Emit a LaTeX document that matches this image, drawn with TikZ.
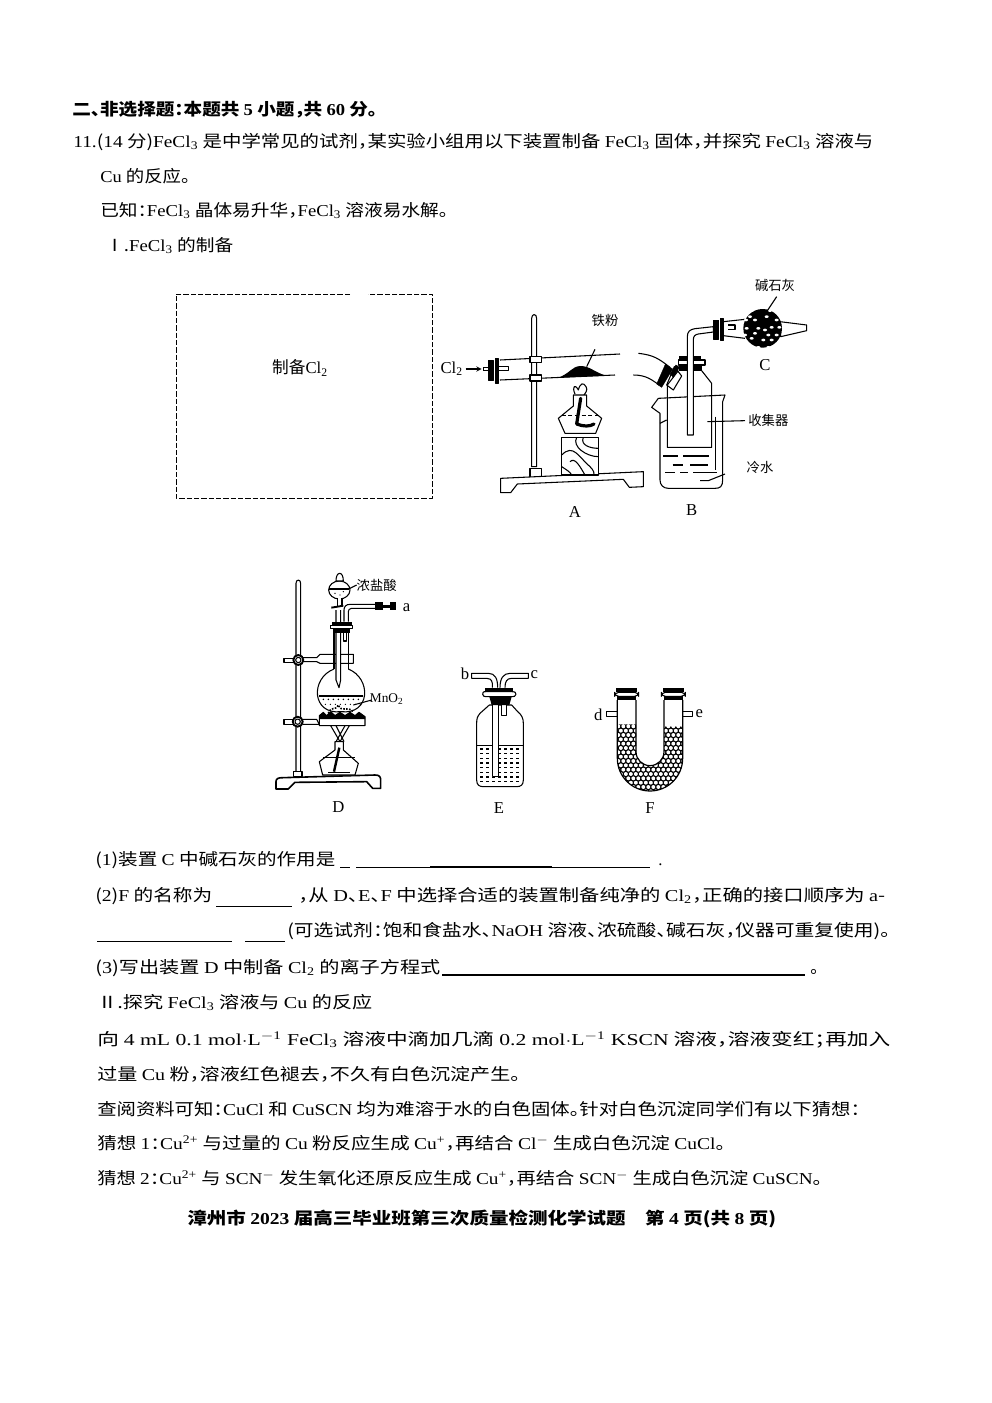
\documentclass[tikz,border=0pt]{standalone}
\usepackage{fontspec}
\setmainfont[RawFeature=+halt]{Noto Sans CJK SC}
\newfontfamily\latinf{Liberation Serif}
\newcommand{\en}[1]{{\latinf #1}}
\newcommand{\fitted}[2]{\resizebox{#1\px}{\height}{#2}}
\newlength{\px}
\setlength{\px}{.75pt}
\tikzset{
  textline/.style={anchor=base west,inner sep=0pt,font=\fontsize{12.5}{15}\selectfont},
  tag/.style={inner sep=0pt,font=\fontsize{10}{12}\selectfont},
  captag/.style={inner sep=0pt,font=\fontsize{12.5}{15}\selectfont},
  rubber/.style={draw=black,fill=black},
  glass/.style={draw=black,line width=.8pt},
  blank/.style={line width=.8pt},
  rule/.style={line width=.6pt},
}
\begin{document}
\begin{tikzpicture}[x=.75pt,y=-.75pt,>=stealth,line join=round]
  \useasboundingbox (0,0) rectangle (992,1403);
  % text above the figures
  \node[textline] (head) at (72,115) {\bfseries\fitted{305}{二、非选择题：本题共 \en{5} 小题，共 \en{60} 分。}};
  \node[textline] (qa) at (73,147) {\fitted{800}{\en{11.}(\en{14} 分)\en{FeCl\textsubscript{3}} 是中学常见的试剂，某实验小组用以下装置制备 \en{FeCl\textsubscript{3}} 固体，并探究 \en{FeCl\textsubscript{3}} 溶液与}};
  \node[textline] (qb) at (100,182) {\fitted{90}{\en{Cu} 的反应。}};
  \node[textline] (known) at (100,216) {\fitted{348}{已知：\en{FeCl\textsubscript{3}} 晶体易升华，\en{FeCl\textsubscript{3}} 溶液易水解。}};
  \node[textline] (partone) at (105,251) {\fitted{128}{Ⅰ.\en{FeCl\textsubscript{3}} 的制备}};

  % dashed box
  \draw[dash pattern=on 4pt off 1.5pt,line width=.6pt] (350,294) -- (176,294) -- (176,498) -- (432,498) -- (432,294) -- (368,294);
  \node[captag] (boxtag) at (300,368) {制备\en{Cl\textsubscript{2}}};

  % apparatus A, B, C
  \begin{scope}[shift={(430,270)},scale=1/3]
    \node[captag] (clgas) at (65,297) {\en{Cl\textsubscript{2}}};
    \coordinate (gasin) at (155,297);
    \draw[->,thick] (clgas.east) ++(8,0) -- (gasin);
    % stand
    \draw[glass,fill=white] (305,590) -- (305,145) .. controls (305,130) and (320,130) .. (320,145) -- (320,590) -- cycle;
    \draw[glass,fill=white] (300,595) rectangle (335,625);
    \draw[blank,fill=white] (212,625) -- (640,605) -- (640,650) -- (598,652) -- (580,628) -- (262,642) -- (242,668) -- (212,668) -- cycle;
    % tube
    \draw[glass] (210,270) -- (570,252);
    \draw[glass] (210,330) -- (555,315);
    \draw[rubber] (175,270) rectangle (190,330);
    \draw[rubber] (195,265) rectangle (205,340);
    \draw[glass] (160,292) -- (175,292) (160,302) -- (175,302) (160,292) -- (160,302);
    \draw[glass] (205,290) -- (235,290) -- (235,302) -- (205,302);
    \draw[glass,fill=white] (300,260) rectangle (335,277);
    \draw[glass,fill=white] (300,315) rectangle (335,333);
    % iron powder
    \fill (385,323) .. controls (420,310) and (425,290) .. (450,288) .. controls (480,288) and (490,305) .. (528,317) -- cycle;
    \draw[blank] (495,238) -- (470,290);
    \node[tag] (irontag) at (525,152) {铁粉};
    % spirit lamp
    \draw[blank] (435,372) .. controls (425,350) and (435,340) .. (445,360) .. controls (450,340) and (460,335) .. (468,350) .. controls (475,360) and (465,370) .. (462,375);
    \draw[glass,fill=white] (430,375) -- (470,375) -- (470,408) -- (515,445) -- (497,490) -- (405,490) -- (385,445) -- (430,408) -- cycle;
    \draw[blank,densely dashed] (395,437) -- (505,437);
    \draw[line width=2.4pt,line cap=round] (452,385) -- (440,462) .. controls (460,470) and (480,470) .. (492,462);
    % wood block
    \draw[glass,fill=white] (395,502) rectangle (505,615);
    \draw[blank] (440,502) .. controls (425,530) and (470,560) .. (505,560);
    \draw[blank] (460,502) .. controls (450,525) and (480,535) .. (505,535);
    \draw[blank] (395,555) .. controls (430,520) and (445,560) .. (480,590) .. controls (490,600) and (495,610) .. (490,615);
    \draw[blank] (420,575) .. controls (435,560) and (450,590) .. (465,615);
    \draw[blank] (395,590) .. controls (410,600) and (420,605) .. (425,615);
    % tube continued
    \draw[glass] (625,250) .. controls (670,255) and (685,265) .. (720,292);
    \draw[glass] (610,315) .. controls (650,315) and (665,330) .. (688,345);
    \draw[rubber,line width=.3pt] (706,283) -- (728,297) -- (695,352) -- (680,342) -- cycle;
    \draw[glass,fill=white] (733,290) -- (755,318) -- (730,360) -- (710,345) -- cycle;
    \draw[rubber] (721,312) -- (738,285) -- (748,292) -- (730,322) -- cycle;
    % bottle
    \draw[glass] (745,302) -- (712,345) -- (712,532) -- (845,532) -- (845,340) -- (815,302);
    \draw[glass,fill=white] (745,270) rectangle (825,285);
    \fill (748,258) rectangle (812,272);
    \fill (748,284) rectangle (815,302);
    % beaker
    \draw[glass] (690,430) -- (665,412) -- (685,385) -- (885,375) -- (878,395) -- (878,630) .. controls (878,650) and (870,655) .. (855,655) -- (715,655) .. controls (700,655) and (690,645) .. (690,630) -- cycle;
    \draw[blank] (700,558) -- (745,558) (760,558) -- (838,558) (728,585) -- (760,585) (780,585) -- (835,585) (705,608) -- (735,608) (750,608) -- (775,608) (790,608) -- (860,608);
    \draw[blank] (857,440) -- (857,600);
    \draw[blank] (710,450) -- (690,460);
    \draw[blank] (810,632) -- (835,632) -- (885,612);
    \coordinate (collect) at (945,452);
    \draw[blank] (832,455) -- (collect);
    \node[tag] (collecttag) at (1015,450) {收集器};
    \node[tag] (watertag) at (990,592) {冷水};
    % bent tube
    \draw[glass,fill=white] (772,495) -- (772,200) .. controls (772,185) and (780,178) .. (795,176) -- (850,170) -- (850,186) -- (805,192) .. controls (795,194) and (790,198) .. (790,210) -- (790,495) -- cycle;
    % bulb C
    \draw[glass] (880,155) -- (945,148);
    \draw[glass] (880,197) -- (945,205);
    \draw[rubber] (850,150) rectangle (866,208);
    \draw[rubber] (872,145) rectangle (880,212);
    \draw[glass] (895,165) -- (915,165) -- (915,178) -- (895,178);
    \draw[glass,fill=white] (1050,155) -- (1130,165) -- (1130,182) -- (1052,200) -- cycle;
    \fill (998,175) circle (58);
    \foreach \sx/\sy in {965/122,995/112,1020/122,975/150,1010/140,1040/150,950/175,985/175,1025/172,1005/180,965/205,1000/210,1025/210,1040/195,985/232,960/140,1015/232,948/150,1048/172,975/190,1015/195,945/195}{
      \fill[white] (\sx,\sy) ellipse (6 and 4);
    }
    \draw[blank] (1040,80) -- (1012,122);
    \node[tag] (limetag) at (1035,45) {碱石灰};
    % captions
    \node[captag] (capA) at (435,725) {\en{A}};
    \node[captag] (capB) at (785,720) {\en{B}};
    \node[captag] (capC) at (1005,285) {\en{C}};
  \end{scope}

  % apparatus D
  \begin{scope}[shift={(260,565)},scale=1/3]
    \draw[glass,fill=white] (108,622) -- (108,55) .. controls (108,42) and (122,42) .. (122,55) -- (122,622) -- cycle;
    \draw[glass,fill=white] (100,620) rectangle (126,634);
    \draw[line width=1.2pt,fill=white] (48,650) .. controls (48,640) and (55,638) .. (70,638) -- (345,630) .. controls (358,630) and (362,635) .. (362,645) -- (362,670) -- (338,670) -- (320,650) -- (105,652) -- (85,672) -- (48,672) -- cycle;
    % upper clamp
    \draw[glass,fill=white] (72,280) rectangle (100,292);
    \draw[glass,fill=white] (128,278) -- (170,278) -- (180,268) -- (280,268) -- (280,295) -- (180,295) -- (170,290) -- (128,290) -- cycle;
    % lower clamp and gauze
    \draw[glass,fill=white] (72,463) rectangle (100,478);
    \draw[glass,fill=white] (128,463) -- (170,463) -- (178,478) -- (128,478) -- cycle;
    \draw[glass,fill=white] (178,452) -- (190,442) -- (200,452) -- (212,440) -- (225,452) -- (240,442) -- (255,452) -- (270,442) -- (285,452) -- (297,442) -- (315,455) -- (315,482) -- (178,482) -- cycle;
    \fill (178,452) -- (190,442) -- (200,452) -- (212,440) -- (225,452) -- (240,442) -- (255,452) -- (270,442) -- (285,452) -- (297,442) -- (315,455) -- (315,462) -- (178,462) -- cycle;
    \foreach \bx/\by in {115/285,113/470}{
      \draw[line width=1.4pt,fill=white] (\bx,\by) circle (15);
      \draw[glass,fill=white] (\bx,\by) circle (8);
    }
    % flask
    \draw[glass,fill=white] (222,312) -- (222,195) (265,195) -- (265,312);
    \draw[glass,fill=white] (222,312) .. controls (150,340) and (155,450) .. (243,440) .. controls (332,450) and (335,340) .. (265,312);
    \draw[blank] (178,393) -- (310,393);
    \foreach \lx in {190,205,...,295}{
      \fill (\lx,403) circle (2.5);
      \fill (\lx+6,418) circle (2);
    }
    \draw[line width=1.2pt,densely dotted] (205,445) .. controls (215,420) and (225,440) .. (235,420) .. controls (245,445) and (260,420) .. (280,440);
    \draw[blank] (280,420) -- (335,405);
    \node[tag] (mntag) at (380,402) {\en{MnO\textsubscript{2}}};
    % long stem and stopper
    \draw[glass,fill=white] (228,135) -- (228,345) -- (237,368) -- (242,345) -- (242,135);
    \draw[glass] (250,205) -- (250,228) -- (260,228) -- (260,205);
    \fill (215,172) rectangle (275,182);
    \draw[glass,fill=white] (212,182) rectangle (278,190);
    \fill (218,190) rectangle (270,205);
    % funnel
    \draw[glass,fill=white] (238,75) ellipse (32 and 27);
    \draw[blank] (208,72) -- (268,72);
    \fill (225,85) circle (2) (240,90) circle (2) (250,80) circle (2);
    \draw[glass,fill=white] (232,100) -- (232,125) -- (246,125) -- (246,100);
    \draw[glass,fill=white] (228,48) .. controls (228,35) and (232,25) .. (239,25) .. controls (246,25) and (250,35) .. (250,48) -- cycle;
    \draw[line width=1.4pt] (214,128) -- (250,122);
    % side arm
    \draw[glass] (252,170) -- (252,135) .. controls (252,125) and (258,118) .. (270,118) -- (345,118);
    \draw[glass] (265,170) -- (265,140) .. controls (265,135) and (268,130) .. (275,130) -- (345,130);
    \coordinate (armend) at (345,124);
    \fill (345,112) rectangle (368,136);
    \fill (368,120) rectangle (390,128);
    \fill (390,112) rectangle (408,136);
    % spirit lamp
    \draw[blank] (212,482) -- (240,530) -- (268,482);
    \draw[blank] (228,482) -- (252,530) (255,482) -- (228,530);
    \draw[glass,fill=white] (225,530) -- (250,530) -- (250,555) -- (295,595) -- (285,630) -- (188,630) -- (178,590) -- (225,555) -- cycle;
    \draw[blank] (190,578) -- (285,578);
    \draw[line width=1.8pt] (238,548) -- (222,620);
    \draw[line width=1.2pt] (205,622) -- (270,622);
    \draw[blank] (270,70) -- (290,60);
    \node[tag] (acidtag) at (350,62) {浓盐酸};
    \node[captag] (portA) at (440,128) {\en{a}};
    \node[captag] (capD) at (235,725) {\en{D}};
  \end{scope}

  % apparatus E and F
  \begin{scope}[shift={(450,655)},scale=1/3]
    \draw[glass,fill=white] (118,150) -- (90,175) .. controls (82,185) and (80,190) .. (80,205) -- (80,375) .. controls (80,390) and (88,395) .. (100,395) -- (200,395) .. controls (212,395) and (220,390) .. (220,375) -- (220,205) .. controls (220,190) and (215,180) .. (205,172) -- (185,150) -- cycle;
    \draw[blank] (80,272) -- (220,272);
    \foreach \dy in {282,296,...,380}{
      \foreach \dx in {90,108,...,208}{
        \draw[line width=.9pt] (\dx,\dy) -- (\dx+9,\dy);
      }
    }
    \draw[glass,fill=white] (155,150) -- (155,182) -- (170,182) -- (170,150);
    \draw[glass,fill=white] (127,150) -- (127,365) -- (145,365) -- (145,150);
    \fill (105,98) rectangle (190,110);
    \draw[glass,fill=white] (98,118) .. controls (98,108) and (105,110) .. (110,110) -- (185,110) .. controls (195,110) and (198,112) .. (198,118) .. controls (198,125) and (190,125) .. (185,125) -- (110,125) .. controls (105,125) and (98,125) .. (98,118) -- cycle;
    \fill (118,125) -- (185,125) -- (178,150) -- (125,150) -- cycle;
    \draw[glass,fill=white] (127,98) -- (127,85) .. controls (125,72) and (118,70) .. (110,70) -- (65,70) -- (65,55) -- (115,55) .. controls (135,55) and (143,70) .. (143,98);
    \draw[glass,fill=white] (150,98) .. controls (150,70) and (160,55) .. (180,55) -- (235,55) -- (235,70) -- (185,70) .. controls (170,70) and (165,80) .. (165,98);
    \node[captag] (portB) at (45,55) {\en{b}};
    \node[captag] (portC) at (253,58) {\en{c}};
    \node[captag] (capE) at (147,460) {\en{E}};

    % U tube
    \begin{scope}
      \clip (502,208) -- (502,310) arc (180:0:98) -- (698,215) -- (642,215) -- (642,290) arc (0:180:42) -- (558,208) -- cycle;
      \foreach \row in {0,...,15}{
        \foreach \col in {0,...,14}{
          \pgfmathsetmacro{\bx}{505+15*\col+7.5*mod(\row,2)}
          \pgfmathsetmacro{\by}{214+13*\row}
          \draw[line width=.6pt] (\bx,\by) circle (7.8);
        }
      }
    \end{scope}
    \draw[glass,line width=.9pt] (502,135) -- (502,310) arc (180:0:98) -- (698,135);
    \draw[glass,line width=.9pt] (558,135) -- (558,290) arc (180:0:42) -- (642,135);
    \foreach \ux in {530,670}{
      \fill (\ux-31,98) rectangle (\ux+31,112);
      \draw[glass,fill=white,rounded corners=3pt] (\ux-36,112) rectangle (\ux+36,124);
      \fill (\ux-28,124) rectangle (\ux+28,136);
    }
    \draw[glass] (502,170) -- (470,170) -- (470,185) -- (502,185);
    \draw[glass] (698,170) -- (728,170) -- (728,185) -- (698,185);
    \node[captag] (portD) at (445,180) {\en{d}};
    \node[captag] (portE) at (748,175) {\en{e}};
    \node[captag] (capF) at (600,458) {\en{F}};
  \end{scope}

  % text below the figures
  \node[textline] (q1) at (95,865) {\fitted{240}{(\en{1})装置 \en{C} 中碱石灰的作用是}};
  \draw[rule] (340,867) -- (350,867) (356,867) -- (430,867);
  \draw[line width=1.2pt] (430,867) -- (552,867);
  \draw[rule] (552,867) -- (650,867);
  \node[textline] (q1end) at (658,865) {\en{.}};
  \node[textline] (q2a) at (95,901) {\fitted{117}{(\en{2})\en{F} 的名称为}};
  \draw[rule] (216,906) -- (292,906);
  \node[textline] (q2b) at (298,901) {\fitted{587}{，从 \en{D}、\en{E}、\en{F} 中选择合适的装置制备纯净的 \en{Cl\textsubscript{2}}，正确的接口顺序为 \en{a}-}};
  \draw[rule] (97,941) -- (232,941) (245,941) -- (285,941);
  \node[textline] (q2c) at (287,936) {\fitted{603}{(可选试剂：饱和食盐水、\en{NaOH} 溶液、浓硫酸、碱石灰，仪器可重复使用)。}};
  \node[textline] (q3) at (95,973) {\fitted{345}{(\en{3})写出装置 \en{D} 中制备 \en{Cl\textsubscript{2}} 的离子方程式}};
  \draw[line width=1pt] (442,975) -- (805,975);
  \node[textline] (q3end) at (810,973) {。};
  \node[textline] (parttwo) at (97,1008) {\fitted{275}{Ⅱ.探究 \en{FeCl\textsubscript{3}} 溶液与 \en{Cu} 的反应}};
  \node[textline] (ta) at (97,1045) {\fitted{793}{向 \en{4 mL 0.1 mol$\cdot$L\textsuperscript{$-$1} FeCl\textsubscript{3}} 溶液中滴加几滴 \en{0.2 mol$\cdot$L\textsuperscript{$-$1} KSCN} 溶液，溶液变红；再加入}};
  \node[textline] (tb) at (97,1080) {\fitted{423}{过量 \en{Cu} 粉，溶液红色褪去，不久有白色沉淀产生。}};
  \node[textline] (tc) at (97,1115) {\fitted{763}{查阅资料可知：\en{CuCl} 和 \en{CuSCN} 均为难溶于水的白色固体。针对白色沉淀同学们有以下猜想：}};
  \node[textline] (guessa) at (97,1149) {\fitted{628}{猜想 \en{1}：\en{Cu\textsuperscript{2+}} 与过量的 \en{Cu} 粉反应生成 \en{Cu\textsuperscript{+}}，再结合 \en{Cl\textsuperscript{$-$}} 生成白色沉淀 \en{CuCl}。}};
  \node[textline] (guessb) at (97,1184) {\fitted{725}{猜想 \en{2}：\en{Cu\textsuperscript{2+}} 与 \en{SCN\textsuperscript{$-$}} 发生氧化还原反应生成 \en{Cu\textsuperscript{+}}，再结合 \en{SCN\textsuperscript{$-$}} 生成白色沉淀 \en{CuSCN}。}};
  \node[textline] (foot) at (187,1224) {\bfseries\fitted{589}{漳州市 \en{2023} 届高三毕业班第三次质量检测化学试题\quad 第 \en{4} 页(共 \en{8} 页)}};
\end{tikzpicture}
\end{document}
